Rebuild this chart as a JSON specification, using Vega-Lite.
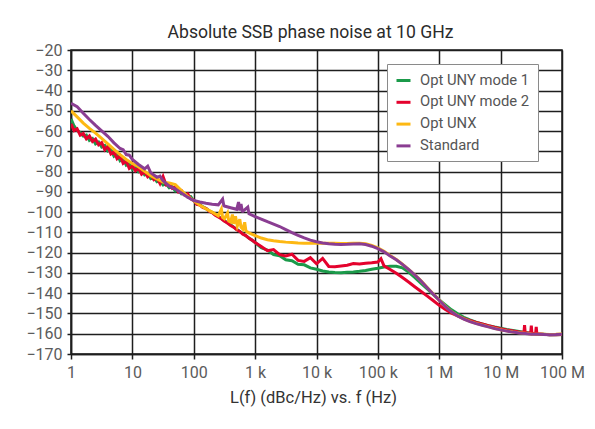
{
"$schema":"https://vega.github.io/schema/vega-lite/v6.json",
"width":491,"height":304,
"autosize":{"type":"none"},
"padding":{"left":71,"top":50,"right":33,"bottom":75},
"background":"white",
"title":{"text":"Absolute SSB phase noise at 10 GHz","frame":"group","anchor":"middle","baseline":"alphabetic","offset":12.5,"dx":-6,"dy":26.5,"fontSize":17.6,"font":"Roboto","fontWeight":"normal","color":"#2b2b2b"},
"data":{"values":[
{"s":"Opt UNY mode 1","f":1,"v":-54.0},{"s":"Opt UNY mode 1","f":1.122,"v":-57.5},{"s":"Opt UNY mode 1","f":1.259,"v":-59.6},{"s":"Opt UNY mode 1","f":1.413,"v":-60.8},{"s":"Opt UNY mode 1","f":1.585,"v":-62.5},{"s":"Opt UNY mode 1","f":1.778,"v":-62.0},{"s":"Opt UNY mode 1","f":1.995,"v":-64.6},{"s":"Opt UNY mode 1","f":2.239,"v":-63.7},{"s":"Opt UNY mode 1","f":2.512,"v":-66.3},{"s":"Opt UNY mode 1","f":2.818,"v":-65.4},{"s":"Opt UNY mode 1","f":3.162,"v":-67.9},{"s":"Opt UNY mode 1","f":3.548,"v":-67.1},{"s":"Opt UNY mode 1","f":3.981,"v":-69.8},{"s":"Opt UNY mode 1","f":4.467,"v":-69.0},{"s":"Opt UNY mode 1","f":5.012,"v":-72.4},{"s":"Opt UNY mode 1","f":5.623,"v":-71.2},{"s":"Opt UNY mode 1","f":6.31,"v":-74.6},{"s":"Opt UNY mode 1","f":7.079,"v":-73.5},{"s":"Opt UNY mode 1","f":7.943,"v":-76.8},{"s":"Opt UNY mode 1","f":8.913,"v":-76.0},
{"s":"Opt UNY mode 1","f":10,"v":-78.9},{"s":"Opt UNY mode 1","f":11.22,"v":-78.0},{"s":"Opt UNY mode 1","f":12.59,"v":-80.1},{"s":"Opt UNY mode 1","f":14.13,"v":-79.3},{"s":"Opt UNY mode 1","f":15.85,"v":-81.6},{"s":"Opt UNY mode 1","f":17.78,"v":-81.0},{"s":"Opt UNY mode 1","f":19.95,"v":-83.4},{"s":"Opt UNY mode 1","f":22.39,"v":-82.7},{"s":"Opt UNY mode 1","f":25.12,"v":-85.0},{"s":"Opt UNY mode 1","f":28.18,"v":-84.4},{"s":"Opt UNY mode 1","f":31.62,"v":-86.6},{"s":"Opt UNY mode 1","f":35.48,"v":-86.0},{"s":"Opt UNY mode 1","f":39.81,"v":-88.0},{"s":"Opt UNY mode 1","f":44.67,"v":-87.5},{"s":"Opt UNY mode 1","f":50.12,"v":-89.6},{"s":"Opt UNY mode 1","f":56.23,"v":-89.2},{"s":"Opt UNY mode 1","f":63.1,"v":-91.0},{"s":"Opt UNY mode 1","f":70.79,"v":-90.7},{"s":"Opt UNY mode 1","f":79.43,"v":-92.5},{"s":"Opt UNY mode 1","f":89.13,"v":-92.3},
{"s":"Opt UNY mode 1","f":100,"v":-94.4},{"s":"Opt UNY mode 1","f":112.2,"v":-95.6},{"s":"Opt UNY mode 1","f":125.9,"v":-96.3},{"s":"Opt UNY mode 1","f":141.3,"v":-97.4},{"s":"Opt UNY mode 1","f":158.5,"v":-98.2},{"s":"Opt UNY mode 1","f":177.8,"v":-99.3},{"s":"Opt UNY mode 1","f":199.5,"v":-100.1},{"s":"Opt UNY mode 1","f":223.9,"v":-101.2},{"s":"Opt UNY mode 1","f":251.2,"v":-102.1},{"s":"Opt UNY mode 1","f":281.8,"v":-103.2},{"s":"Opt UNY mode 1","f":316.2,"v":-104.2},{"s":"Opt UNY mode 1","f":354.8,"v":-105.3},{"s":"Opt UNY mode 1","f":398.1,"v":-106.2},{"s":"Opt UNY mode 1","f":446.7,"v":-107.4},{"s":"Opt UNY mode 1","f":501.2,"v":-108.4},{"s":"Opt UNY mode 1","f":562.3,"v":-109.5},{"s":"Opt UNY mode 1","f":631,"v":-110.6},{"s":"Opt UNY mode 1","f":707.9,"v":-111.7},{"s":"Opt UNY mode 1","f":794.3,"v":-112.8},{"s":"Opt UNY mode 1","f":891.3,"v":-113.9},
{"s":"Opt UNY mode 1","f":1000,"v":-115.0},{"s":"Opt UNY mode 1","f":1259,"v":-117.6},{"s":"Opt UNY mode 1","f":1585,"v":-118.7},{"s":"Opt UNY mode 1","f":1995,"v":-120.9},{"s":"Opt UNY mode 1","f":2512,"v":-121.5},{"s":"Opt UNY mode 1","f":3162,"v":-123.5},{"s":"Opt UNY mode 1","f":3981,"v":-124.0},{"s":"Opt UNY mode 1","f":5012,"v":-125.7},{"s":"Opt UNY mode 1","f":6310,"v":-126.0},{"s":"Opt UNY mode 1","f":7943,"v":-127.5},
{"s":"Opt UNY mode 1","f":10000,"v":-128.2},{"s":"Opt UNY mode 1","f":12589,"v":-129.0},{"s":"Opt UNY mode 1","f":15849,"v":-129.5},{"s":"Opt UNY mode 1","f":19953,"v":-129.8},{"s":"Opt UNY mode 1","f":25119,"v":-129.9},{"s":"Opt UNY mode 1","f":31623,"v":-129.7},{"s":"Opt UNY mode 1","f":39811,"v":-129.5},{"s":"Opt UNY mode 1","f":50119,"v":-129.2},{"s":"Opt UNY mode 1","f":63096,"v":-128.8},{"s":"Opt UNY mode 1","f":79433,"v":-128.2},
{"s":"Opt UNY mode 1","f":100000,"v":-127.7},{"s":"Opt UNY mode 1","f":125893,"v":-127.1},{"s":"Opt UNY mode 1","f":158489,"v":-126.7},{"s":"Opt UNY mode 1","f":199526,"v":-126.7},{"s":"Opt UNY mode 1","f":251189,"v":-127.5},{"s":"Opt UNY mode 1","f":316228,"v":-129.6},{"s":"Opt UNY mode 1","f":398107,"v":-132.2},{"s":"Opt UNY mode 1","f":501187,"v":-135.0},{"s":"Opt UNY mode 1","f":630957,"v":-137.8},{"s":"Opt UNY mode 1","f":794328,"v":-140.6},
{"s":"Opt UNY mode 1","f":1000000,"v":-143.3},{"s":"Opt UNY mode 1","f":1258925,"v":-145.8},{"s":"Opt UNY mode 1","f":1584893,"v":-148.2},{"s":"Opt UNY mode 1","f":1995262,"v":-150.2},{"s":"Opt UNY mode 1","f":2511886,"v":-151.9},{"s":"Opt UNY mode 1","f":3162278,"v":-153.2},{"s":"Opt UNY mode 1","f":3981072,"v":-154.3},{"s":"Opt UNY mode 1","f":5011872,"v":-155.2},{"s":"Opt UNY mode 1","f":6309573,"v":-156.0},{"s":"Opt UNY mode 1","f":7943282,"v":-156.7},
{"s":"Opt UNY mode 1","f":10000000,"v":-157.3},{"s":"Opt UNY mode 1","f":12589254,"v":-157.9},{"s":"Opt UNY mode 1","f":15848932,"v":-158.4},{"s":"Opt UNY mode 1","f":19952623,"v":-158.9},{"s":"Opt UNY mode 1","f":25118864,"v":-159.4},{"s":"Opt UNY mode 1","f":31622777,"v":-159.8},{"s":"Opt UNY mode 1","f":39810717,"v":-160.1},{"s":"Opt UNY mode 1","f":50118723,"v":-160.3},{"s":"Opt UNY mode 1","f":63095734,"v":-160.5},{"s":"Opt UNY mode 1","f":79432823,"v":-160.5},{"s":"Opt UNY mode 1","f":100000000,"v":-160.4},

{"s":"Opt UNY mode 2","f":1,"v":-56.5},{"s":"Opt UNY mode 2","f":1.122,"v":-59.8},{"s":"Opt UNY mode 2","f":1.259,"v":-58.9},{"s":"Opt UNY mode 2","f":1.413,"v":-62.0},{"s":"Opt UNY mode 2","f":1.585,"v":-61.2},{"s":"Opt UNY mode 2","f":1.778,"v":-63.8},{"s":"Opt UNY mode 2","f":1.995,"v":-62.4},{"s":"Opt UNY mode 2","f":2.239,"v":-65.1},{"s":"Opt UNY mode 2","f":2.512,"v":-63.9},{"s":"Opt UNY mode 2","f":2.818,"v":-66.8},{"s":"Opt UNY mode 2","f":3.162,"v":-65.7},{"s":"Opt UNY mode 2","f":3.548,"v":-69.2},{"s":"Opt UNY mode 2","f":3.981,"v":-67.5},{"s":"Opt UNY mode 2","f":4.467,"v":-71.3},{"s":"Opt UNY mode 2","f":5.012,"v":-70.2},{"s":"Opt UNY mode 2","f":5.623,"v":-73.6},{"s":"Opt UNY mode 2","f":6.31,"v":-72.1},{"s":"Opt UNY mode 2","f":7.079,"v":-75.9},{"s":"Opt UNY mode 2","f":7.943,"v":-74.8},{"s":"Opt UNY mode 2","f":8.913,"v":-78.4},
{"s":"Opt UNY mode 2","f":10,"v":-77.2},{"s":"Opt UNY mode 2","f":11.22,"v":-79.6},{"s":"Opt UNY mode 2","f":12.59,"v":-78.4},{"s":"Opt UNY mode 2","f":14.13,"v":-81.3},{"s":"Opt UNY mode 2","f":15.85,"v":-80.1},{"s":"Opt UNY mode 2","f":17.78,"v":-82.6},{"s":"Opt UNY mode 2","f":19.95,"v":-81.5},{"s":"Opt UNY mode 2","f":22.39,"v":-84.0},{"s":"Opt UNY mode 2","f":25.12,"v":-83.1},{"s":"Opt UNY mode 2","f":28.18,"v":-85.9},{"s":"Opt UNY mode 2","f":31.62,"v":-82.4},{"s":"Opt UNY mode 2","f":35.48,"v":-86.6},{"s":"Opt UNY mode 2","f":39.81,"v":-86.2},{"s":"Opt UNY mode 2","f":44.67,"v":-88.3},{"s":"Opt UNY mode 2","f":50.12,"v":-87.6},{"s":"Opt UNY mode 2","f":56.23,"v":-90.1},{"s":"Opt UNY mode 2","f":63.1,"v":-89.4},{"s":"Opt UNY mode 2","f":70.79,"v":-91.5},{"s":"Opt UNY mode 2","f":79.43,"v":-91.0},{"s":"Opt UNY mode 2","f":89.13,"v":-93.4},
{"s":"Opt UNY mode 2","f":100,"v":-94.1},{"s":"Opt UNY mode 2","f":112.2,"v":-96.2},{"s":"Opt UNY mode 2","f":125.9,"v":-96.5},{"s":"Opt UNY mode 2","f":141.3,"v":-97.8},{"s":"Opt UNY mode 2","f":158.5,"v":-98.1},{"s":"Opt UNY mode 2","f":177.8,"v":-99.6},{"s":"Opt UNY mode 2","f":199.5,"v":-100.2},{"s":"Opt UNY mode 2","f":223.9,"v":-101.5},{"s":"Opt UNY mode 2","f":251.2,"v":-102.4},{"s":"Opt UNY mode 2","f":281.8,"v":-103.3},{"s":"Opt UNY mode 2","f":316.2,"v":-104.5},{"s":"Opt UNY mode 2","f":354.8,"v":-105.4},{"s":"Opt UNY mode 2","f":398.1,"v":-106.6},{"s":"Opt UNY mode 2","f":446.7,"v":-107.4},{"s":"Opt UNY mode 2","f":501.2,"v":-108.7},{"s":"Opt UNY mode 2","f":562.3,"v":-109.5},{"s":"Opt UNY mode 2","f":631,"v":-110.9},{"s":"Opt UNY mode 2","f":707.9,"v":-111.6},{"s":"Opt UNY mode 2","f":794.3,"v":-112.9},{"s":"Opt UNY mode 2","f":891.3,"v":-113.8},
{"s":"Opt UNY mode 2","f":1000,"v":-115.0},{"s":"Opt UNY mode 2","f":1259,"v":-117.0},{"s":"Opt UNY mode 2","f":1585,"v":-119.0},{"s":"Opt UNY mode 2","f":1995,"v":-118.5},{"s":"Opt UNY mode 2","f":2512,"v":-121.0},{"s":"Opt UNY mode 2","f":3162,"v":-121.6},{"s":"Opt UNY mode 2","f":3981,"v":-120.8},{"s":"Opt UNY mode 2","f":5012,"v":-123.8},{"s":"Opt UNY mode 2","f":6310,"v":-124.3},{"s":"Opt UNY mode 2","f":7943,"v":-122.5},
{"s":"Opt UNY mode 2","f":10000,"v":-125.5},{"s":"Opt UNY mode 2","f":12589,"v":-122.8},{"s":"Opt UNY mode 2","f":15849,"v":-126.8},{"s":"Opt UNY mode 2","f":19953,"v":-127.0},{"s":"Opt UNY mode 2","f":25119,"v":-126.6},{"s":"Opt UNY mode 2","f":31623,"v":-126.2},{"s":"Opt UNY mode 2","f":39811,"v":-125.4},{"s":"Opt UNY mode 2","f":50119,"v":-125.6},{"s":"Opt UNY mode 2","f":63096,"v":-125.2},{"s":"Opt UNY mode 2","f":79433,"v":-125.0},
{"s":"Opt UNY mode 2","f":100000,"v":-124.6},{"s":"Opt UNY mode 2","f":112202,"v":-123.0},{"s":"Opt UNY mode 2","f":125893,"v":-126.5},{"s":"Opt UNY mode 2","f":158489,"v":-128.3},{"s":"Opt UNY mode 2","f":199526,"v":-130.2},{"s":"Opt UNY mode 2","f":251189,"v":-132.3},{"s":"Opt UNY mode 2","f":316228,"v":-134.5},{"s":"Opt UNY mode 2","f":398107,"v":-136.8},{"s":"Opt UNY mode 2","f":501187,"v":-139.0},{"s":"Opt UNY mode 2","f":630957,"v":-141.3},{"s":"Opt UNY mode 2","f":794328,"v":-143.6},
{"s":"Opt UNY mode 2","f":1000000,"v":-146.0},{"s":"Opt UNY mode 2","f":1258925,"v":-148.0},{"s":"Opt UNY mode 2","f":1584893,"v":-149.8},{"s":"Opt UNY mode 2","f":1995262,"v":-151.2},{"s":"Opt UNY mode 2","f":2511886,"v":-152.5},{"s":"Opt UNY mode 2","f":3162278,"v":-153.5},{"s":"Opt UNY mode 2","f":3981072,"v":-154.4},{"s":"Opt UNY mode 2","f":5011872,"v":-155.2},{"s":"Opt UNY mode 2","f":6309573,"v":-156.0},{"s":"Opt UNY mode 2","f":7943282,"v":-156.8},
{"s":"Opt UNY mode 2","f":10000000,"v":-157.5},{"s":"Opt UNY mode 2","f":12589254,"v":-158.1},{"s":"Opt UNY mode 2","f":15848932,"v":-158.6},{"s":"Opt UNY mode 2","f":19952623,"v":-159.1},{"s":"Opt UNY mode 2","f":23988329,"v":-159.3},{"s":"Opt UNY mode 2","f":24547089,"v":-155.8},{"s":"Opt UNY mode 2","f":25118864,"v":-159.5},{"s":"Opt UNY mode 2","f":30902954,"v":-159.7},{"s":"Opt UNY mode 2","f":31622777,"v":-156.0},{"s":"Opt UNY mode 2","f":32359366,"v":-159.8},{"s":"Opt UNY mode 2","f":37153523,"v":-159.9},{"s":"Opt UNY mode 2","f":38018940,"v":-156.6},{"s":"Opt UNY mode 2","f":38904514,"v":-160.0},{"s":"Opt UNY mode 2","f":39810717,"v":-160.0},{"s":"Opt UNY mode 2","f":50118723,"v":-160.3},{"s":"Opt UNY mode 2","f":63095734,"v":-160.5},{"s":"Opt UNY mode 2","f":79432823,"v":-160.5},{"s":"Opt UNY mode 2","f":100000000,"v":-160.4},

{"s":"Opt UNX","f":1,"v":-50.0},{"s":"Opt UNX","f":1.259,"v":-53.0},{"s":"Opt UNX","f":1.585,"v":-56.1},{"s":"Opt UNX","f":1.995,"v":-58.7},{"s":"Opt UNX","f":2.512,"v":-61.0},{"s":"Opt UNX","f":3.162,"v":-63.6},{"s":"Opt UNX","f":3.981,"v":-66.3},{"s":"Opt UNX","f":5.012,"v":-69.0},{"s":"Opt UNX","f":6.31,"v":-71.6},{"s":"Opt UNX","f":7.943,"v":-74.0},
{"s":"Opt UNX","f":10,"v":-76.0},{"s":"Opt UNX","f":12.59,"v":-77.6},{"s":"Opt UNX","f":15.85,"v":-79.8},{"s":"Opt UNX","f":19.95,"v":-82.0},{"s":"Opt UNX","f":25.12,"v":-83.6},{"s":"Opt UNX","f":31.62,"v":-85.2},{"s":"Opt UNX","f":39.81,"v":-85.6},{"s":"Opt UNX","f":50.12,"v":-86.4},{"s":"Opt UNX","f":63.1,"v":-89.4},{"s":"Opt UNX","f":79.43,"v":-92.2},
{"s":"Opt UNX","f":100,"v":-94.4},{"s":"Opt UNX","f":125.9,"v":-96.6},{"s":"Opt UNX","f":158.5,"v":-98.4},{"s":"Opt UNX","f":199.5,"v":-100.0},{"s":"Opt UNX","f":251.2,"v":-101.8},{"s":"Opt UNX","f":281.8,"v":-98.5},{"s":"Opt UNX","f":295.1,"v":-102.6},{"s":"Opt UNX","f":316.2,"v":-103.3},{"s":"Opt UNX","f":354.8,"v":-100.5},{"s":"Opt UNX","f":371.5,"v":-104.4},{"s":"Opt UNX","f":398.1,"v":-104.9},{"s":"Opt UNX","f":426.6,"v":-101.2},{"s":"Opt UNX","f":446.7,"v":-105.8},{"s":"Opt UNX","f":478.6,"v":-102.0},{"s":"Opt UNX","f":512.9,"v":-106.9},{"s":"Opt UNX","f":562.3,"v":-103.5},{"s":"Opt UNX","f":588.8,"v":-107.5},{"s":"Opt UNX","f":631,"v":-108.4},{"s":"Opt UNX","f":676.1,"v":-105.0},{"s":"Opt UNX","f":707.9,"v":-109.3},{"s":"Opt UNX","f":794.3,"v":-110.2},
{"s":"Opt UNX","f":1000,"v":-111.6},{"s":"Opt UNX","f":1259,"v":-112.8},{"s":"Opt UNX","f":1585,"v":-113.6},{"s":"Opt UNX","f":1995,"v":-114.1},{"s":"Opt UNX","f":2512,"v":-114.5},{"s":"Opt UNX","f":3162,"v":-114.8},{"s":"Opt UNX","f":3981,"v":-115.0},{"s":"Opt UNX","f":5012,"v":-115.2},{"s":"Opt UNX","f":6310,"v":-115.3},{"s":"Opt UNX","f":7943,"v":-115.4},
{"s":"Opt UNX","f":10000,"v":-115.4},{"s":"Opt UNX","f":12589,"v":-115.3},{"s":"Opt UNX","f":15849,"v":-115.3},{"s":"Opt UNX","f":19953,"v":-115.4},{"s":"Opt UNX","f":25119,"v":-115.5},{"s":"Opt UNX","f":31623,"v":-115.5},{"s":"Opt UNX","f":39811,"v":-115.4},{"s":"Opt UNX","f":50119,"v":-115.3},{"s":"Opt UNX","f":63096,"v":-115.6},{"s":"Opt UNX","f":79433,"v":-116.4},
{"s":"Opt UNX","f":100000,"v":-117.6},{"s":"Opt UNX","f":125893,"v":-119.3},{"s":"Opt UNX","f":158489,"v":-121.4},{"s":"Opt UNX","f":199526,"v":-123.4},{"s":"Opt UNX","f":251189,"v":-125.7},{"s":"Opt UNX","f":316228,"v":-128.2},{"s":"Opt UNX","f":398107,"v":-130.9},{"s":"Opt UNX","f":501187,"v":-133.8},{"s":"Opt UNX","f":630957,"v":-137.1},{"s":"Opt UNX","f":794328,"v":-140.3},
{"s":"Opt UNX","f":1000000,"v":-143.4},{"s":"Opt UNX","f":1258925,"v":-146.5},{"s":"Opt UNX","f":1584893,"v":-149.1},{"s":"Opt UNX","f":1995262,"v":-151.1},{"s":"Opt UNX","f":2511886,"v":-152.7},{"s":"Opt UNX","f":3162278,"v":-153.9},{"s":"Opt UNX","f":3981072,"v":-154.9},{"s":"Opt UNX","f":5011872,"v":-155.7},{"s":"Opt UNX","f":6309573,"v":-156.5},{"s":"Opt UNX","f":7943282,"v":-157.3},
{"s":"Opt UNX","f":10000000,"v":-158.0},{"s":"Opt UNX","f":12589254,"v":-158.6},{"s":"Opt UNX","f":15848932,"v":-159.1},{"s":"Opt UNX","f":19952623,"v":-159.5},{"s":"Opt UNX","f":25118864,"v":-159.8},{"s":"Opt UNX","f":31622777,"v":-160.1},{"s":"Opt UNX","f":39810717,"v":-160.2},{"s":"Opt UNX","f":50118723,"v":-160.3},{"s":"Opt UNX","f":63095734,"v":-160.4},{"s":"Opt UNX","f":79432823,"v":-160.3},{"s":"Opt UNX","f":100000000,"v":-160.1},

{"s":"Standard","f":1,"v":-46.3},{"s":"Standard","f":1.259,"v":-48.0},{"s":"Standard","f":1.585,"v":-51.2},{"s":"Standard","f":1.995,"v":-54.3},{"s":"Standard","f":2.512,"v":-57.2},{"s":"Standard","f":3.162,"v":-59.9},{"s":"Standard","f":3.981,"v":-62.6},{"s":"Standard","f":5.012,"v":-65.8},{"s":"Standard","f":6.31,"v":-68.6},{"s":"Standard","f":7.079,"v":-69.2},{"s":"Standard","f":7.943,"v":-71.6},{"s":"Standard","f":8.913,"v":-71.9},
{"s":"Standard","f":10,"v":-74.0},{"s":"Standard","f":12.59,"v":-76.5},{"s":"Standard","f":15.85,"v":-78.6},{"s":"Standard","f":17.78,"v":-77.3},{"s":"Standard","f":19.95,"v":-80.6},{"s":"Standard","f":25.12,"v":-82.8},{"s":"Standard","f":28.18,"v":-82.2},{"s":"Standard","f":31.62,"v":-84.5},{"s":"Standard","f":39.81,"v":-87.2},{"s":"Standard","f":50.12,"v":-88.6},{"s":"Standard","f":63.1,"v":-90.6},{"s":"Standard","f":79.43,"v":-92.6},
{"s":"Standard","f":100,"v":-94.3},{"s":"Standard","f":125.9,"v":-95.0},{"s":"Standard","f":158.5,"v":-95.6},{"s":"Standard","f":199.5,"v":-96.1},{"s":"Standard","f":251.2,"v":-96.4},{"s":"Standard","f":295.1,"v":-93.6},{"s":"Standard","f":309,"v":-96.8},{"s":"Standard","f":316.2,"v":-97.0},{"s":"Standard","f":398.1,"v":-97.8},{"s":"Standard","f":501.2,"v":-98.6},{"s":"Standard","f":537,"v":-95.0},{"s":"Standard","f":562.3,"v":-99.2},{"s":"Standard","f":588.8,"v":-96.0},{"s":"Standard","f":616.6,"v":-99.5},{"s":"Standard","f":631,"v":-99.6},{"s":"Standard","f":758.6,"v":-97.5},{"s":"Standard","f":794.3,"v":-100.8},
{"s":"Standard","f":1000,"v":-102.2},{"s":"Standard","f":1259,"v":-103.4},{"s":"Standard","f":1585,"v":-104.7},{"s":"Standard","f":1995,"v":-105.9},{"s":"Standard","f":2512,"v":-107.1},{"s":"Standard","f":3162,"v":-108.6},{"s":"Standard","f":3981,"v":-110.1},{"s":"Standard","f":5012,"v":-111.5},{"s":"Standard","f":6310,"v":-112.7},{"s":"Standard","f":7943,"v":-113.8},
{"s":"Standard","f":10000,"v":-114.6},{"s":"Standard","f":12589,"v":-115.2},{"s":"Standard","f":15849,"v":-115.6},{"s":"Standard","f":19953,"v":-115.9},{"s":"Standard","f":25119,"v":-116.0},{"s":"Standard","f":31623,"v":-115.9},{"s":"Standard","f":39811,"v":-115.7},{"s":"Standard","f":50119,"v":-115.6},{"s":"Standard","f":63096,"v":-116.0},{"s":"Standard","f":79433,"v":-116.8},
{"s":"Standard","f":100000,"v":-118.0},{"s":"Standard","f":125893,"v":-119.6},{"s":"Standard","f":158489,"v":-121.6},{"s":"Standard","f":199526,"v":-123.5},{"s":"Standard","f":251189,"v":-125.8},{"s":"Standard","f":316228,"v":-128.3},{"s":"Standard","f":398107,"v":-131.0},{"s":"Standard","f":501187,"v":-133.9},{"s":"Standard","f":630957,"v":-137.2},{"s":"Standard","f":794328,"v":-140.4},
{"s":"Standard","f":1000000,"v":-143.5},{"s":"Standard","f":1258925,"v":-146.6},{"s":"Standard","f":1584893,"v":-149.2},{"s":"Standard","f":1995262,"v":-151.2},{"s":"Standard","f":2511886,"v":-152.8},{"s":"Standard","f":3162278,"v":-154.0},{"s":"Standard","f":3981072,"v":-155.0},{"s":"Standard","f":5011872,"v":-155.8},{"s":"Standard","f":6309573,"v":-156.6},{"s":"Standard","f":7943282,"v":-157.4},
{"s":"Standard","f":10000000,"v":-158.1},{"s":"Standard","f":12589254,"v":-158.7},{"s":"Standard","f":15848932,"v":-159.2},{"s":"Standard","f":19952623,"v":-159.6},{"s":"Standard","f":25118864,"v":-159.9},{"s":"Standard","f":31622777,"v":-160.2},{"s":"Standard","f":39810717,"v":-160.3},{"s":"Standard","f":50118723,"v":-160.4},{"s":"Standard","f":63095734,"v":-160.5},{"s":"Standard","f":79432823,"v":-160.4},{"s":"Standard","f":100000000,"v":-160.2}
]},
"mark":{"type":"line","strokeWidth":3,"clip":true},
"encoding":{
"x":{"field":"f","type":"quantitative","scale":{"type":"log","domain":[1,100000000]},
"axis":{"values":[1,10,100,1000,10000,100000,1000000,10000000,100000000],
"labelExpr":"datum.value >= 1000000 ? format(datum.value/1000000,'d') + ' M' : datum.value >= 1000 ? format(datum.value/1000,'d') + ' k' : format(datum.value,'d')",
"labelOverlap":false,"labelFlush":false,"tickSize":5,"labelPadding":5,
"title":"L(f) (dBc/Hz) vs. f (Hz)","titleFont":"Roboto","titleFontSize":16.5,"titleFontWeight":"normal","titleColor":"#333333","titleBaseline":"alphabetic","titleY":48,"titleX":242}},
"y":{"field":"v","type":"quantitative","scale":{"domain":[-170,-20],"nice":false,"zero":false},
"axis":{"values":[-20,-30,-40,-50,-60,-70,-80,-90,-100,-110,-120,-130,-140,-150,-160,-170],"labelOverlap":false,"tickSize":4,"labelPadding":5,"title":null}},
"color":{"field":"s","type":"nominal","scale":{"domain":["Opt UNY mode 1","Opt UNY mode 2","Opt UNX","Standard"],"range":["#1b9a4a","#e4022d","#fdb813","#8a3d92"]},
"legend":{"orient":"none","legendX":316,"legendY":14,"title":null,"symbolType":"stroke","symbolStrokeWidth":3,"symbolSize":196,"labelFont":"Roboto","labelFontSize":14.8,"labelColor":"#555555","padding":8,"rowPadding":5.8,"labelOffset":8,"strokeColor":"#8a8a8a","fillColor":"white","labelLimit":300}}
},
"config":{
"font":"Roboto",
"view":{"stroke":"#1e1e1e","strokeWidth":1.5},
"axis":{"grid":true,"gridColor":"#1e1e1e","gridWidth":1.5,"gridOpacity":1,"domainColor":"#1e1e1e","domainWidth":1.5,"tickColor":"#1e1e1e","tickWidth":1.5,"labelFont":"Roboto","labelFontSize":16,"labelColor":"#5b5b5b"}
}
}
